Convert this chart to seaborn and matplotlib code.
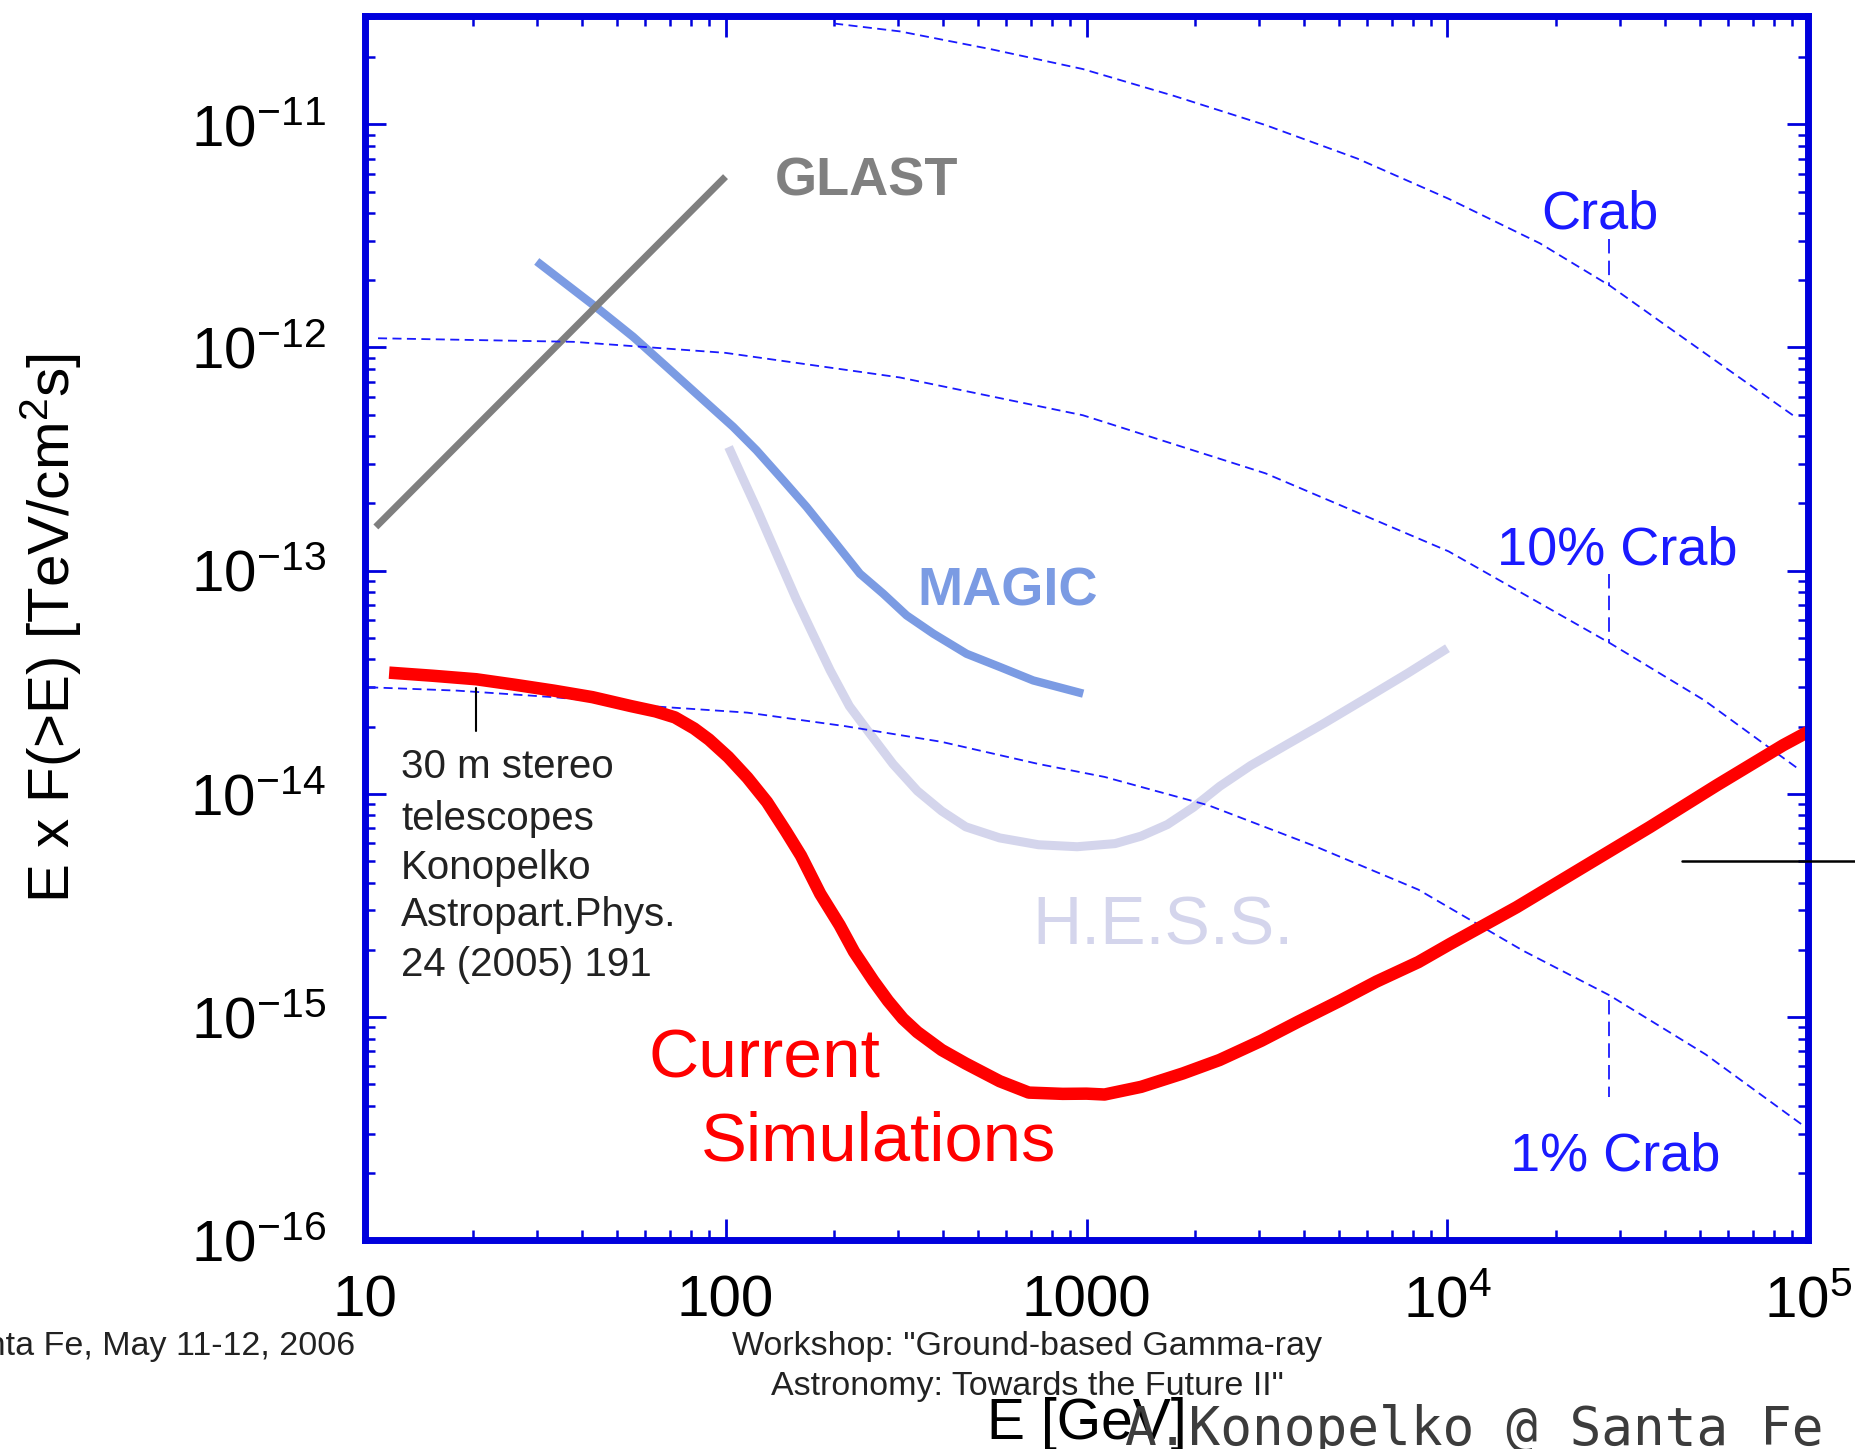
import numpy as np
import pandas as pd
import matplotlib
matplotlib.use("Agg")
import matplotlib.pyplot as plt
import seaborn as sns
from matplotlib.ticker import FixedLocator, FixedFormatter, LogLocator, NullFormatter
from matplotlib.lines import Line2D

# ---------------- data ----------------
x_ticks = [10, 100, 1000, 1e4, 1e5]
x_ticklabels = ["10", "100", "1000", "$10^4$", "$10^5$"]
y_ticks = [1e-16, 1e-15, 1e-14, 1e-13, 1e-12, 1e-11]
y_ticklabels = ["$10^{-16}$", "$10^{-15}$", "$10^{-14}$", "$10^{-13}$", "$10^{-12}$", "$10^{-11}$"]

glast_E = [10.75, 100]
glast_F = [1.57e-13, 5.83e-12]

magic_E = [30, 36.7, 44.9, 55.5, 68.7, 84.9, 105, 121.9, 144.5, 167.7, 198.8, 235.7, 273.5,
           317.4, 376.3, 465.3, 575.5, 711.9, 979]
magic_F = [2.43e-12, 1.89e-12, 1.47e-12, 1.116e-12, 8.19e-13, 6.01e-13, 4.41e-13, 3.46e-13,
           2.54e-13, 1.93e-13, 1.37e-13, 9.69e-14, 7.88e-14, 6.30e-14, 5.22e-14, 4.24e-14,
           3.70e-14, 3.22e-14, 2.81e-14]

hess_E = [102, 111.7, 122.5, 138.7, 157, 174.8, 195, 220.4, 250, 291, 340, 397, 463, 575, 736,
          942, 1200, 1417, 1675, 1978, 2340, 2853, 3610, 4552, 5950, 7762, 10000]
hess_F = [3.58e-13, 2.59e-13, 1.87e-13, 1.18e-13, 7.46e-14, 5.17e-14, 3.57e-14, 2.47e-14,
          1.88e-14, 1.36e-14, 1.03e-14, 8.37e-15, 7.11e-15, 6.34e-15, 5.91e-15, 5.79e-15,
          5.98e-15, 6.46e-15, 7.28e-15, 8.70e-15, 1.08e-14, 1.34e-14, 1.67e-14, 2.07e-14,
          2.68e-14, 3.47e-14, 4.49e-14]

sim_E = [11.7, 15.45, 20.4, 26.1, 33.4, 42.8, 54.8, 64.0, 72.4, 81.9, 90, 101.8, 115, 130.3,
         147, 161.8, 183, 207, 227, 257, 282, 310, 340, 397, 463, 575, 692, 859, 1000, 1122,
         1417, 1849, 2336, 3050, 3853, 5030, 6356, 8300, 10150, 15530, 23760, 36340, 55630,
         85060, 100000]
sim_F = [3.49e-14, 3.38e-14, 3.26e-14, 3.08e-14, 2.90e-14, 2.71e-14, 2.47e-14, 2.34e-14,
         2.20e-14, 1.96e-14, 1.75e-14, 1.46e-14, 1.18e-14, 9.18e-15, 6.79e-15, 5.28e-15,
         3.56e-15, 2.58e-15, 1.96e-15, 1.45e-15, 1.18e-15, 9.82e-16, 8.55e-16, 7.11e-16,
         6.18e-16, 5.15e-16, 4.58e-16, 4.52e-16, 4.53e-16, 4.49e-16, 4.86e-16, 5.58e-16,
         6.41e-16, 7.82e-16, 9.51e-16, 1.18e-15, 1.44e-15, 1.76e-15, 2.12e-15, 3.10e-15,
         4.69e-15, 7.09e-15, 1.09e-14, 1.65e-14, 1.90e-14]

crab_E = [200, 304, 545, 976, 1750, 3130, 5620, 10070, 18030, 28200, 51500, 92500]
crab_F = [2.83e-11, 2.61e-11, 2.17e-11, 1.77e-11, 1.34e-11, 9.93e-12, 7.03e-12, 4.64e-12,
          2.93e-12, 1.89e-12, 9.46e-13, 4.85e-13]

crab10_E = [10.9, 38, 100, 304, 977, 3130, 10070, 28200, 51500, 92700]
crab10_F = [1.10e-12, 1.06e-12, 9.46e-13, 7.34e-13, 4.97e-13, 2.73e-13, 1.22e-13, 4.73e-14,
            2.62e-14, 1.31e-14]

crab1_E = [10.3, 18, 33.4, 62.1, 115, 214, 396, 736, 1122, 2180, 4250, 8300, 16200, 28100,
           51900, 98000]
crab1_F = [3.00e-14, 2.90e-14, 2.71e-14, 2.47e-14, 2.31e-14, 2.01e-14, 1.71e-14, 1.36e-14,
           1.19e-14, 8.87e-15, 5.86e-15, 3.72e-15, 1.98e-15, 1.25e-15, 6.79e-16, 3.21e-16]

pointer_E = [28000, 28000]
crab_ptr_F = [3.06e-12, 1.89e-12]
crab10_ptr_F = [9.66e-14, 4.73e-14]
crab1_ptr_F = [1.19e-15, 4.38e-16]
ref_ptr_E = [20.4, 20.4]
ref_ptr_F = [2.97e-14, 1.91e-14]

# ---------------- style ----------------
sns.set_theme(style="white")
plt.rcParams["font.family"] = ["Liberation Sans", "DejaVu Sans"]
plt.rcParams["mathtext.fontset"] = "custom"
plt.rcParams["mathtext.rm"] = "Liberation Sans"
plt.rcParams["mathtext.it"] = "Liberation Sans:italic"
plt.rcParams["mathtext.bf"] = "Liberation Sans:bold"

SPINE = "#0000dd"
CRABC = "#1a1aff"

fig = plt.figure(figsize=(18.56, 14.49), dpi=100)
ax = fig.add_axes([0.1964, 0.1442, 0.778, 0.845])
ax.set_xscale("log")
ax.set_yscale("log")


def draw(E, F, **kw):
    df = pd.DataFrame({"E": E, "F": F})
    sns.lineplot(data=df, x="E", y="F", ax=ax, estimator=None, sort=False, **kw)


draw(hess_E, hess_F, color="#d4d5ec", linewidth=6.5, zorder=2, solid_capstyle="butt")
draw(magic_E, magic_F, color="#7b9be3", linewidth=6, zorder=3, solid_capstyle="butt")
draw(glast_E, glast_F, color="#7f7f7f", linewidth=5, zorder=3, solid_capstyle="butt")
draw(crab_E, crab_F, color=CRABC, linewidth=1.3, linestyle=(0, (5, 3)), zorder=4)
draw(crab10_E, crab10_F, color=CRABC, linewidth=1.3, linestyle=(0, (5, 3)), zorder=4)
draw(crab1_E, crab1_F, color=CRABC, linewidth=1.3, linestyle=(0, (5, 3)), zorder=4)
draw(pointer_E, crab_ptr_F, color=CRABC, linewidth=1.3, linestyle=(0, (8, 4)), zorder=4)
draw(pointer_E, crab10_ptr_F, color=CRABC, linewidth=1.3, linestyle=(0, (8, 4)), zorder=4)
draw(pointer_E, crab1_ptr_F, color=CRABC, linewidth=1.3, linestyle=(0, (8, 4)), zorder=4)
draw(ref_ptr_E, ref_ptr_F, color="black", linewidth=1.5, zorder=4)
draw(sim_E, sim_F, color="#ff0000", linewidth=9, zorder=5, solid_capstyle="butt")

ax.set_xlim(10, 1e5)
ax.set_ylim(1e-16, 3.07e-11)

# ticks
ax.xaxis.set_major_locator(FixedLocator(x_ticks))
ax.xaxis.set_major_formatter(FixedFormatter(x_ticklabels))
ax.xaxis.set_minor_locator(LogLocator(base=10, subs=np.arange(2, 10), numticks=60))
ax.xaxis.set_minor_formatter(NullFormatter())
ax.yaxis.set_major_locator(FixedLocator(y_ticks))
ax.yaxis.set_major_formatter(FixedFormatter(y_ticklabels))
ax.yaxis.set_minor_locator(LogLocator(base=10, subs=np.arange(2, 10), numticks=60))
ax.yaxis.set_minor_formatter(NullFormatter())

ax.tick_params(which="major", direction="in", length=15, width=2, color=SPINE,
               top=True, right=True, bottom=True, left=True, labelsize=42,
               labelcolor="black")
ax.tick_params(axis="x", which="major", pad=25)
ax.tick_params(axis="y", which="major", pad=28)
ax.tick_params(which="minor", direction="in", length=7.5, width=1.8, color=SPINE,
               top=True, right=True, bottom=True, left=True)

for s in ax.spines.values():
    s.set_color(SPINE)
    s.set_linewidth(5)
    s.set_zorder(6)

ax.set_xlabel("E [GeV]", fontsize=41, color="black")
ax.set_ylabel("E x F(>E) [TeV/cm$^2$s]", fontsize=42, color="black")
ax.xaxis.set_label_coords(0.5, -0.128)
ax.yaxis.set_label_coords(-0.194, 0.5)

# in-plot labels
T = ax.transAxes
ax.text(0.2844, 0.8649, "GLAST", color="#808080", fontsize=39, fontweight="bold",
        ha="left", va="center", transform=T)
ax.text(0.3828, 0.5294, "MAGIC", color="#7b9be3", fontsize=39, fontweight="bold",
        ha="left", va="center", transform=T)
ax.text(0.4623, 0.2558, "H.E.S.S.", color="#d4d5ec", fontsize=49,
        ha="left", va="center", transform=T)
ax.text(0.1967, 0.1475, "Current", color="#ff0000", fontsize=50,
        ha="left", va="center", transform=T)
ax.text(0.2328, 0.0799, "Simulations", color="#ff0000", fontsize=49.5,
        ha="left", va="center", transform=T)
ax.text(0.8148, 0.8378, "Crab", color=CRABC, fontsize=39, ha="left", va="center", transform=T)
ax.text(0.7844, 0.5632, "10% Crab", color=CRABC, fontsize=39, ha="left", va="center", transform=T)
ax.text(0.7934, 0.0683, "1% Crab", color=CRABC, fontsize=39, ha="left", va="center", transform=T)

note_lines = ["30 m stereo", "telescopes", "Konopelko", "Astropart.Phys.", "24 (2005) 191"]
note_y = [0.3863, 0.3438, 0.3041, 0.2655, 0.2249]
for txt, yy in zip(note_lines, note_y):
    ax.text(0.0254, yy, txt, color="#222222", fontsize=29, ha="left", va="center", transform=T)

# footer texts
fig.text(0.1913, 0.0704, "Santa Fe, May 11-12, 2006", fontsize=24.5, color="#222222",
         ha="right", va="center")
fig.text(0.5534, 0.0704, "Workshop: \"Ground-based Gamma-ray", fontsize=24.5, color="#222222",
         ha="center", va="center")
fig.text(0.5534, 0.0428, "Astronomy: Towards the Future II\"", fontsize=24.5, color="#222222",
         ha="center", va="center")
fig.text(0.606, 0.003, "A.Konopelko @ Santa Fe", family="DejaVu Sans Mono", fontsize=38,
         color="#3c3c3c", ha="left", va="baseline")

fig.add_artist(Line2D([0.9063, 1.0], [0.4061, 0.4061], transform=fig.transFigure,
                      color="black", linewidth=1.8, zorder=10))

fig.savefig("out.png", dpi=100)
